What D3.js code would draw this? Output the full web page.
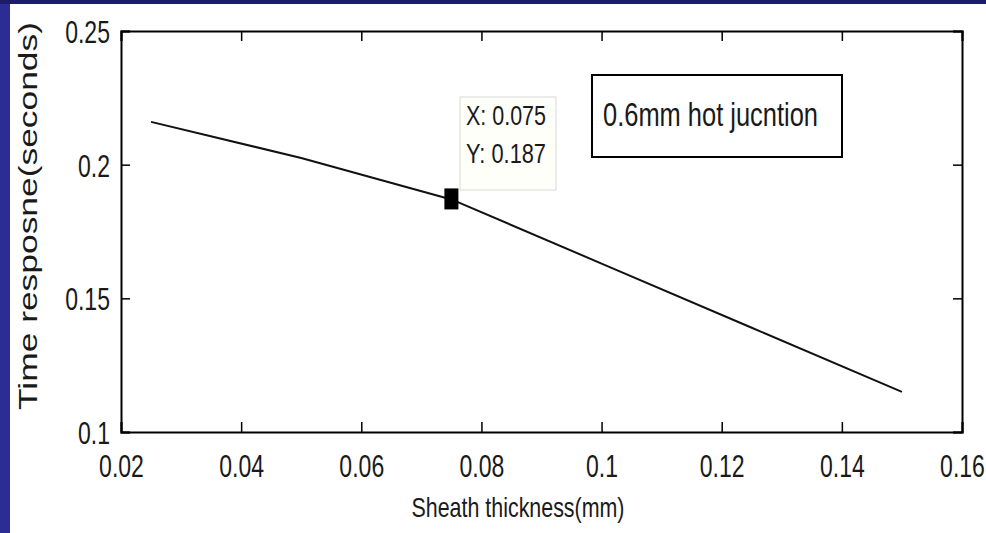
<!DOCTYPE html>
<html>
<head>
<meta charset="utf-8">
<script src="https://cdn.jsdelivr.net/npm/d3@7"></script>
<style>
  html, body { margin: 0; padding: 0; background: #ffffff; }
  svg { display: block; }
</style>
</head>
<body>
<script>
// Time response vs sheath thickness, 0.6 mm hot junction
const thickness = [0.025, 0.05, 0.075, 0.1, 0.125, 0.15];
const response  = [0.216, 0.2025, 0.187, 0.163, 0.139, 0.115];
const xTicks = [0.02, 0.04, 0.06, 0.08, 0.1, 0.12, 0.14, 0.16];
const yTicks = [0.1, 0.15, 0.2, 0.25];
const tip = { x: 0.075, y: 0.187 };
const legendText = "0.6mm hot jucntion";
const xTitle = "Sheath thickness(mm)";
const yTitle = "Time resposne(seconds)";

const W = 986, H = 533;
const plotL = 121, plotR = 962, plotT = 31, plotB = 432;
const sans = "'Liberation Sans', Arial, Helvetica, sans-serif";
const squeeze = 0.72;   // condensed look for the tick labels

const svg = d3.select("body").append("svg").attr("width", W).attr("height", H);

// slide frame
svg.append("rect").attr("width", W).attr("height", H).attr("fill", "#ffffff");
svg.append("rect").attr("x", 0).attr("y", 0).attr("width", 10).attr("height", H).attr("fill", "#2c2c94");
svg.append("rect").attr("x", 0).attr("y", 0).attr("width", W).attr("height", 4).attr("fill", "#1c1c6c");

const x = d3.scaleLinear().domain([0.02, 0.16]).range([plotL, plotR]);
const y = d3.scaleLinear().domain([0.1, 0.25]).range([plotB, plotT]);

// axes with inward ticks on all four sides
const fmt = d => String(+d.toFixed(3));
const gB = svg.append("g").attr("transform", `translate(0,${plotB})`)
  .call(d3.axisBottom(x).tickValues(xTicks).tickSize(-10).tickPadding(0).tickFormat(fmt));
const gT = svg.append("g").attr("transform", `translate(0,${plotT})`)
  .call(d3.axisTop(x).tickValues(xTicks).tickSize(-10).tickFormat(""));
const gL = svg.append("g").attr("transform", `translate(${plotL},0)`)
  .call(d3.axisLeft(y).tickValues(yTicks).tickSize(-9).tickPadding(0).tickFormat(fmt));
const gR = svg.append("g").attr("transform", `translate(${plotR},0)`)
  .call(d3.axisRight(y).tickValues(yTicks).tickSize(-9).tickFormat(""));

[gB, gT, gL, gR].forEach(g => {
  g.select(".domain").attr("stroke", "#000").attr("stroke-width", 2);
  g.selectAll(".tick line").attr("stroke", "#000").attr("stroke-width", 1.5);
});

gB.selectAll(".tick text")
  .attr("x", 0).attr("y", 0).attr("dy", 0)
  .attr("transform", `translate(0,45) scale(${squeeze},1)`)
  .attr("font-family", sans).attr("font-size", 32).attr("fill", "#1a1a1a");
gL.selectAll(".tick text")
  .attr("x", 0).attr("dy", "0.36em")
  .attr("transform", `translate(-11,0) scale(${squeeze},1)`)
  .attr("font-family", sans).attr("font-size", 32).attr("fill", "#1a1a1a");

// axis titles
svg.append("text")
  .attr("x", 518).attr("y", 517)
  .attr("text-anchor", "middle")
  .attr("font-family", sans).attr("font-size", 28)
  .attr("textLength", 213).attr("lengthAdjust", "spacingAndGlyphs")
  .attr("fill", "#1a1a1a")
  .text(xTitle);

svg.append("text")
  .attr("transform", "translate(37,216) rotate(-90)")
  .attr("text-anchor", "middle")
  .attr("font-family", sans).attr("font-size", 25)
  .attr("textLength", 388).attr("lengthAdjust", "spacingAndGlyphs")
  .attr("fill", "#1a1a1a")
  .text(yTitle);

// data line
const line = d3.line().x((d, i) => x(thickness[i])).y(d => y(d));
svg.append("path")
  .datum(response)
  .attr("d", line)
  .attr("fill", "none")
  .attr("stroke", "#111")
  .attr("stroke-width", 2);

// data tip
svg.append("rect")
  .attr("x", 460).attr("y", 97).attr("width", 96).attr("height", 93)
  .attr("fill", "#fffffa").attr("stroke", "#d8d8d8").attr("stroke-width", 1);
svg.append("text")
  .attr("x", 466).attr("y", 125)
  .attr("font-family", sans).attr("font-size", 28)
  .attr("textLength", 80).attr("lengthAdjust", "spacingAndGlyphs")
  .attr("fill", "#1a1a1a")
  .text("X: " + tip.x);
svg.append("text")
  .attr("x", 466).attr("y", 163)
  .attr("font-family", sans).attr("font-size", 28)
  .attr("textLength", 80).attr("lengthAdjust", "spacingAndGlyphs")
  .attr("fill", "#1a1a1a")
  .text("Y: " + tip.y);
svg.append("rect")
  .attr("x", x(tip.x) - 7).attr("y", y(tip.y) - 11)
  .attr("width", 14).attr("height", 21)
  .attr("fill", "#000");

// annotation box
svg.append("rect")
  .attr("x", 592).attr("y", 75).attr("width", 250).attr("height", 82)
  .attr("fill", "#fff").attr("stroke", "#000").attr("stroke-width", 2);
svg.append("text")
  .attr("x", 603).attr("y", 126)
  .attr("font-family", sans).attr("font-size", 33)
  .attr("textLength", 215).attr("lengthAdjust", "spacingAndGlyphs")
  .attr("fill", "#1a1a1a")
  .text(legendText);
</script>
</body>
</html>
